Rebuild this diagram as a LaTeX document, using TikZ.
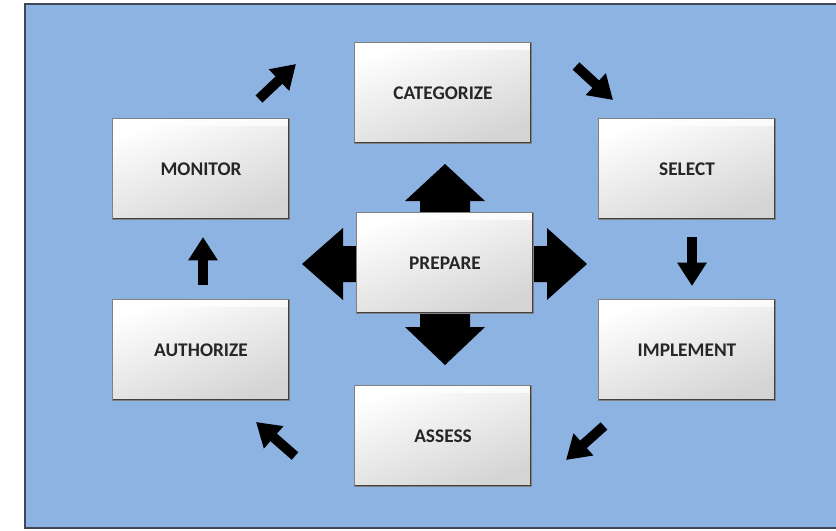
\documentclass[tikz,border=0pt]{standalone}
\usepackage{fontspec}
\setmainfont{Carlito}
\usetikzlibrary{arrows.meta}
\definecolor{backblue}{RGB}{141,179,226}
\definecolor{framegray}{RGB}{62,72,88}
\tikzset{
  stepbox/.style={rectangle, minimum width=5.3cm, minimum height=3.05cm,
    top color=white, bottom color=black!17, shading angle=20,
    draw=black!50, line width=0.6pt, text=black!85,
    font=\bfseries\fontsize{16.5}{18}\selectfont,
    path picture={
      \fill[white,opacity=.75] (path picture bounding box.north west) rectangle ([yshift=-7pt]path picture bounding box.north east);
      \draw[black!75,line width=2.4pt] (path picture bounding box.north east) -- (path picture bounding box.south east) -- (path picture bounding box.south west);}},
  cyclearrow/.style={line width=8.5pt, black, -{Triangle[width=24pt,length=20pt]}}
}
\begin{document}
\begin{tikzpicture}[x=0.03cm,y=-0.03cm]
    \useasboundingbox (0,0) rectangle (836,531);
    \fill[backblue] (25,4) rectangle (836,528);
    \draw[framegray,line width=1.8pt] (836,4) -- (25,4) -- (25,528) -- (836,528);
    % big arrows round the centre box
    \fill[black] (420,215) -- (420,201) -- (405,201) -- (445,164) -- (485,201) -- (470,201) -- (470,215) -- cycle;
    \fill[black] (420,312) -- (420,327) -- (405,327) -- (445,365) -- (485,327) -- (470,327) -- (470,312) -- cycle;
    \fill[black] (360,246) -- (343,246) -- (343,228) -- (302,264) -- (343,300) -- (343,282) -- (360,282) -- cycle;
    \fill[black] (530,246) -- (547,246) -- (547,228) -- (587,264) -- (547,300) -- (547,282) -- (530,282) -- cycle;
    % boxes
    \node[stepbox] (categorize) at (443,93) {CATEGORIZE};
    \node[stepbox] (select) at (687,169) {SELECT};
    \node[stepbox] (implement) at (687,350) {IMPLEMENT};
    \node[stepbox] (assess) at (443,436) {ASSESS};
    \node[stepbox] (authorize) at (201,350) {AUTHORIZE};
    \node[stepbox] (monitor) at (201,169) {MONITOR};
    \node[stepbox] (prepare) at (445,263) {PREPARE};
    % small arrows between the boxes
    \coordinate (mc0) at (259,99);\coordinate (mc1) at (296,64);
    \coordinate (cs0) at (576,66);\coordinate (cs1) at (613,100);
    \coordinate (si0) at (692,237);\coordinate (si1) at (692,286);
    \coordinate (ia0) at (604,426);\coordinate (ia1) at (566,460);
    \coordinate (aa0) at (295,456);\coordinate (aa1) at (256,422);
    \coordinate (am0) at (203,285);\coordinate (am1) at (203,237);
    \draw[cyclearrow] (mc0) -- (mc1);\draw[cyclearrow] (cs0) -- (cs1);
    \draw[cyclearrow] (si0) -- (si1);\draw[cyclearrow] (ia0) -- (ia1);
    \draw[cyclearrow] (aa0) -- (aa1);\draw[cyclearrow] (am0) -- (am1);
\end{tikzpicture}
\end{document}
